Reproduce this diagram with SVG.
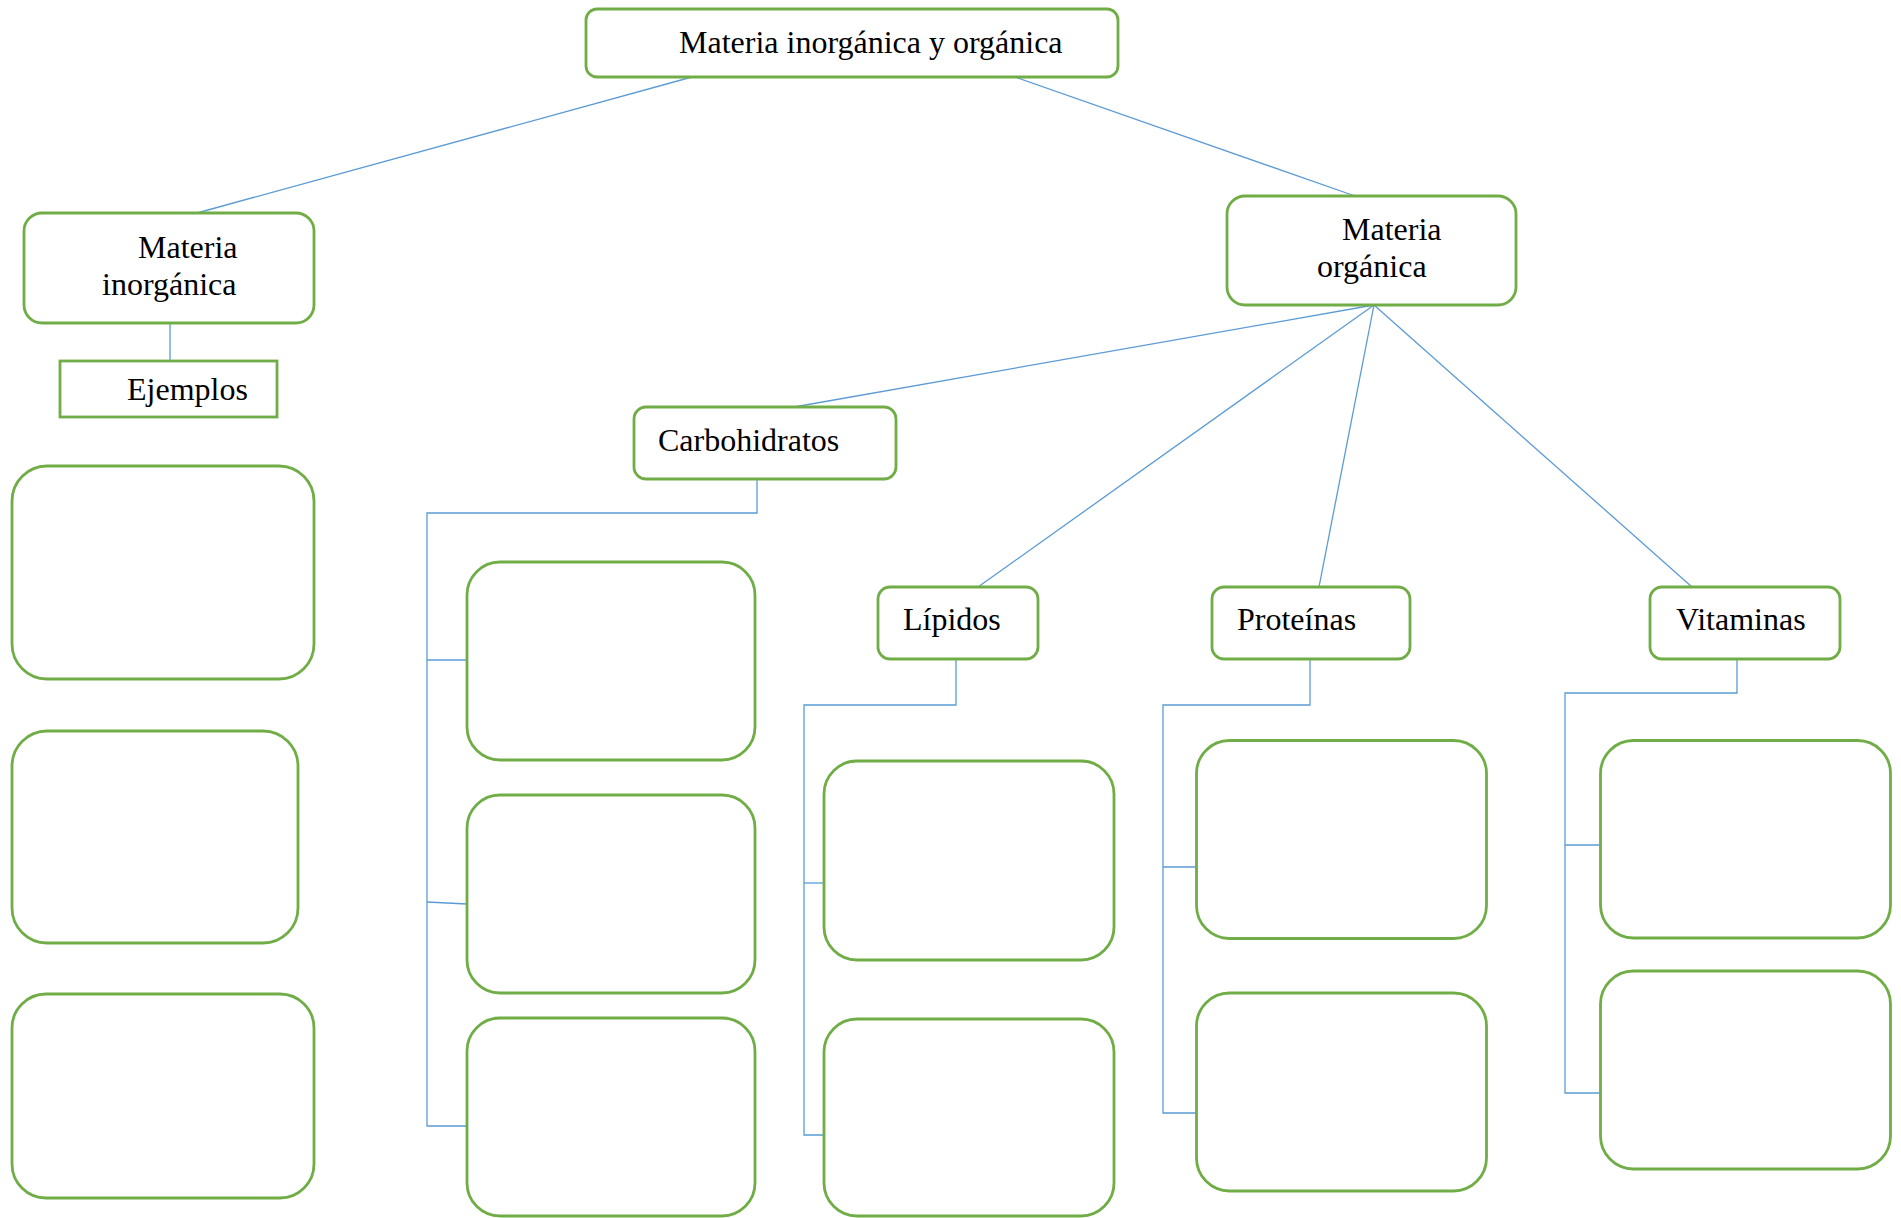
<svg xmlns="http://www.w3.org/2000/svg" width="1901" height="1218" viewBox="0 0 1901 1218">
<style>
.box{fill:#fff;stroke:#70AD47;stroke-width:2.8}
.conn{fill:none;stroke:#5B9BD5;stroke-width:1.3}
.t{font-family:"Liberation Serif","Times New Roman",serif;font-size:32px;fill:#000}
</style>
<rect width="1901" height="1218" fill="#fff"/>
<g id="connectors">
<line class="conn" x1="692" y1="77" x2="197" y2="213"/>
<line class="conn" x1="1012" y1="76" x2="1355" y2="196"/>
<line class="conn" x1="170" y1="323" x2="170" y2="361"/>
<line class="conn" x1="1374" y1="305" x2="794" y2="407"/>
<line class="conn" x1="1374" y1="305" x2="978" y2="587"/>
<line class="conn" x1="1374" y1="305" x2="1319" y2="587"/>
<line class="conn" x1="1374" y1="305" x2="1692" y2="587"/>
<polyline class="conn" points="757,479 757,513 427,513 427,1126 467,1126"/>
<line class="conn" x1="427" y1="660" x2="467" y2="660"/>
<line class="conn" x1="427" y1="902" x2="467" y2="904"/>
<polyline class="conn" points="956,659 956,705 804,705 804,1135 824,1135"/>
<line class="conn" x1="804" y1="883" x2="824" y2="883"/>
<polyline class="conn" points="1310,659 1310,705 1163,705 1163,1113 1197,1113"/>
<line class="conn" x1="1163" y1="867" x2="1197" y2="867"/>
<polyline class="conn" points="1737,659 1737,693 1565,693 1565,1093 1601,1093"/>
<line class="conn" x1="1565" y1="845" x2="1601" y2="845"/>
</g>
<g id="n-root"><rect class="box" x="586" y="9" width="532" height="68" rx="11"/><text class="t" x="679" y="53">Materia inorgánica y orgánica</text></g>
<g id="n-inorg"><rect class="box" x="24" y="213" width="290" height="110" rx="18"/><text class="t" x="138" y="258">Materia</text><text class="t" x="102" y="295">inorgánica</text></g>
<g id="n-ejemplos"><rect class="box" x="60" y="361" width="217" height="56"/><text class="t" x="127" y="400">Ejemplos</text></g>
<g id="n-org"><rect class="box" x="1227" y="196" width="289" height="109" rx="18"/><text class="t" x="1342" y="240">Materia</text><text class="t" x="1317" y="277">orgánica</text></g>
<g id="n-carbo"><rect class="box" x="634" y="407" width="262" height="72" rx="12"/><text class="t" x="658" y="451">Carbohidratos</text></g>
<g id="n-lipidos"><rect class="box" x="878" y="587" width="160" height="72" rx="12"/><text class="t" x="903" y="630">Lípidos</text></g>
<g id="n-proteinas"><rect class="box" x="1212" y="587" width="198" height="72" rx="12"/><text class="t" x="1237" y="630">Proteínas</text></g>
<g id="n-vitaminas"><rect class="box" x="1650" y="587" width="190" height="72" rx="12"/><text class="t" x="1676" y="630">Vitaminas</text></g>
<g id="n-ej1"><rect class="box" x="12" y="466" width="302" height="213" rx="35"/></g>
<g id="n-ej2"><rect class="box" x="12" y="731" width="286" height="212" rx="35"/></g>
<g id="n-ej3"><rect class="box" x="12" y="994" width="302" height="204" rx="34"/></g>
<g id="n-c1"><rect class="box" x="467" y="562" width="288" height="198" rx="33"/></g>
<g id="n-c2"><rect class="box" x="467" y="795" width="288" height="198" rx="33"/></g>
<g id="n-c3"><rect class="box" x="467" y="1018" width="288" height="198" rx="33"/></g>
<g id="n-l1"><rect class="box" x="824" y="761" width="290" height="199" rx="33"/></g>
<g id="n-l2"><rect class="box" x="824" y="1019" width="290" height="197" rx="33"/></g>
<g id="n-p1"><rect class="box" x="1196.5" y="740.5" width="290" height="198" rx="33"/></g>
<g id="n-p2"><rect class="box" x="1196.5" y="993" width="290" height="198" rx="33"/></g>
<g id="n-v1"><rect class="box" x="1600.5" y="740.5" width="290" height="197.5" rx="33"/></g>
<g id="n-v2"><rect class="box" x="1600.5" y="971" width="290" height="198" rx="33"/></g>
</svg>
